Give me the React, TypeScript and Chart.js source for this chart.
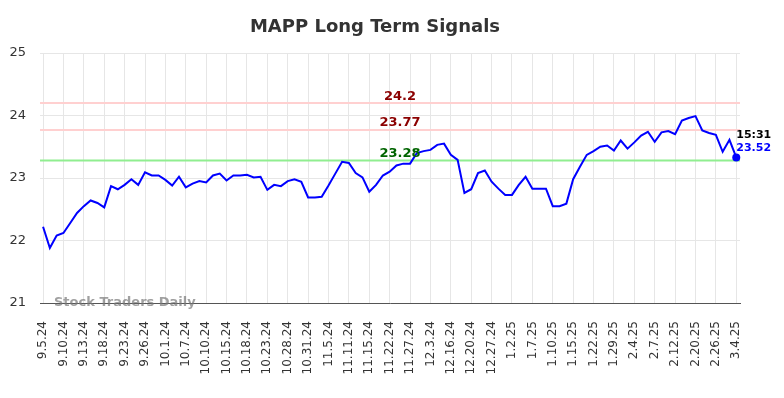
import React, { useEffect, useRef } from "react";
import { Chart, registerables } from "chart.js";

Chart.register(...registerables);

const TITLE = "MAPP Long Term Signals";

const TICK_LABELS = [
  "9.5.24", "9.10.24", "9.13.24", "9.18.24", "9.23.24", "9.26.24", "10.1.24", "10.7.24",
  "10.10.24", "10.15.24", "10.18.24", "10.23.24", "10.28.24", "10.31.24", "11.5.24", "11.11.24",
  "11.15.24", "11.22.24", "11.27.24", "12.3.24", "12.16.24", "12.20.24", "12.27.24", "1.2.25",
  "1.7.25", "1.10.25", "1.15.25", "1.22.25", "1.29.25", "2.4.25", "2.7.25", "2.12.25",
  "2.20.25", "2.26.25", "3.4.25",
];
const POINTS_PER_TICK = 3;

const PRICES = [
  22.22, 21.88, 22.08, 22.12, 22.28, 22.44, 22.55, 22.64, 22.60, 22.53,
  22.87, 22.82, 22.89, 22.98, 22.89, 23.09, 23.04, 23.04, 22.97, 22.88,
  23.02, 22.85, 22.91, 22.95, 22.93, 23.04, 23.07, 22.96, 23.04, 23.04,
  23.05, 23.01, 23.02, 22.81, 22.89, 22.87, 22.95, 22.98, 22.94, 22.69,
  22.69, 22.70, 22.88, 23.07, 23.26, 23.24, 23.08, 23.01, 22.78, 22.89,
  23.04, 23.10, 23.20, 23.23, 23.23, 23.40, 23.43, 23.45, 23.53, 23.55,
  23.37, 23.29, 22.76, 22.82, 23.08, 23.12, 22.94, 22.83, 22.73, 22.73,
  22.89, 23.02, 22.83, 22.83, 22.83, 22.55, 22.55, 22.59, 22.98, 23.18,
  23.37, 23.43, 23.50, 23.52, 23.44, 23.60, 23.47, 23.57, 23.68, 23.74,
  23.58, 23.73, 23.75, 23.70, 23.92, 23.96, 23.99, 23.76, 23.72, 23.69,
  23.42, 23.61, 23.33,
];

const SIGNAL_VALUES = [24.2, 23.77, 23.28];
const SIGNAL_LABELS = ["24.2", "23.77", "23.28"];
const SIGNAL_LINE_COLORS = ["#ffd0d0", "#ffd0d0", "#90ee90"];
const SIGNAL_TEXT_COLORS = ["#8b0000", "#8b0000", "#006400"];

const LAST_TIME = "15:31";
const LAST_PRICE_LABEL = "23.52";
const WATERMARK = "Stock Traders Daily";

const Y_MIN = 21;
const Y_MAX = 25;

const FONT = "'DejaVu Sans', sans-serif";

export default function App() {
  const canvasRef = useRef<HTMLCanvasElement | null>(null);

  useEffect(() => {
    const canvas = canvasRef.current;
    if (!canvas) return;

    const lastIdx = PRICES.length - 1;

    const overlay = {
      id: "overlay",
      beforeDatasetsDraw(chart: any) {
        const { ctx, chartArea, scales } = chart;
        const y = scales.y;
        ctx.save();
        SIGNAL_VALUES.forEach((v, i) => {
          const py = y.getPixelForValue(v);
          ctx.strokeStyle = SIGNAL_LINE_COLORS[i];
          ctx.lineWidth = 2;
          ctx.beginPath();
          ctx.moveTo(chartArea.left, py);
          ctx.lineTo(chartArea.right, py);
          ctx.stroke();
        });
        ctx.restore();
      },
      afterDatasetsDraw(chart: any) {
        const { ctx, chartArea, scales } = chart;
        const x = scales.x;
        const y = scales.y;
        ctx.save();
        // title
        ctx.font = `bold 18px ${FONT}`;
        ctx.fillStyle = "#333333";
        ctx.textAlign = "center";
        ctx.textBaseline = "middle";
        ctx.fillText(TITLE, 375, 27);

        // signal labels
        const cx = (chartArea.left + chartArea.right) / 2 + 10;
        ctx.font = `bold 13px ${FONT}`;
        ctx.textAlign = "center";
        ctx.textBaseline = "alphabetic";
        SIGNAL_VALUES.forEach((v, i) => {
          const py = y.getPixelForValue(v);
          ctx.fillStyle = SIGNAL_TEXT_COLORS[i];
          ctx.fillText(SIGNAL_LABELS[i], cx, py - 3.5);
        });

        // last point marker and labels
        const lx = x.getPixelForValue(lastIdx);
        const ly = y.getPixelForValue(PRICES[lastIdx]);
        ctx.fillStyle = "#0000ff";
        ctx.beginPath();
        ctx.arc(lx, ly, 4, 0, Math.PI * 2);
        ctx.fill();
        ctx.font = `bold 11px ${FONT}`;
        ctx.textAlign = "left";
        ctx.textBaseline = "middle";
        ctx.fillStyle = "#000000";
        ctx.fillText(LAST_TIME, lx, ly - 22);
        ctx.fillStyle = "#0000ff";
        ctx.fillText(LAST_PRICE_LABEL, lx, ly - 9);

        // watermark
        ctx.font = `bold 13px ${FONT}`;
        ctx.fillStyle = "rgba(120,120,120,0.7)";
        ctx.textAlign = "left";
        ctx.textBaseline = "middle";
        ctx.fillText(WATERMARK, chartArea.left + 14, chartArea.bottom);
        ctx.restore();
      },
    };

    const chart = new Chart(canvas, {
      type: "line",
      data: {
        datasets: [
          {
            data: PRICES.map((v, i) => ({ x: i, y: v })),
            borderColor: "#0000ff",
            borderWidth: 2,
            pointRadius: 0,
            tension: 0,
            fill: false,
          },
        ],
      },
      options: {
        animation: false,
        responsive: false,
        devicePixelRatio: 1,
        layout: { padding: { top: 53, left: 10, right: 44, bottom: 0 } },
        plugins: {
          legend: { display: false },
          title: { display: false },
          tooltip: { enabled: false },
        },
        scales: {
          x: {
            type: "linear",
            min: -0.45,
            max: PRICES.length - 1 + 0.55,
            afterBuildTicks: (scale: any) => {
              scale.ticks = TICK_LABELS.map((_, k) => ({ value: k * POINTS_PER_TICK }));
            },
            afterFit: (scale: any) => {
              scale.height = 95;
            },
            grid: { color: "#e6e6e6", drawTicks: false, lineWidth: 1 },
            border: { display: true, color: "#555555", width: 1 },
            ticks: {
              autoSkip: false,
              maxRotation: 90,
              minRotation: 90,
              padding: 18,
              color: "#333333",
              font: { family: FONT, size: 12 },
              callback: (value: any) => {
                const k = Math.round(Number(value) / POINTS_PER_TICK);
                return TICK_LABELS[k] ?? "";
              },
            },
          },
          y: {
            min: Y_MIN,
            max: Y_MAX,
            afterFit: (scale: any) => {
              scale.width = 30;
            },
            grid: { color: "#e6e6e6", drawTicks: false, lineWidth: 1 },
            border: { display: false },
            ticks: {
              stepSize: 1,
              padding: 14,
              color: "#333333",
              font: { family: FONT, size: 13 },
            },
          },
        },
      },
      plugins: [overlay],
    });

    return () => {
      chart.destroy();
    };
  }, []);

  return (
    <div style={{ position: "absolute", left: 0, top: 0, width: 784, height: 398, background: "#ffffff" }}>
      <canvas ref={canvasRef} width={784} height={398} style={{ width: 784, height: 398, display: "block" }} />
    </div>
  );
}
